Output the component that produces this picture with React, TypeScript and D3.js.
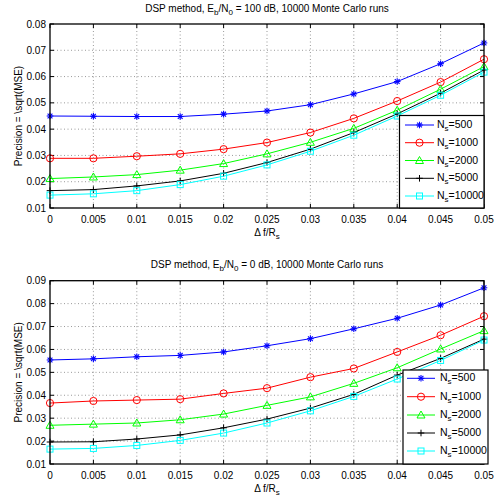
import React from "react";
import * as d3 from "d3";

const dfValues = [0, 0.005, 0.01, 0.015, 0.02, 0.025, 0.03, 0.035, 0.04, 0.045, 0.05];
const xTicks = [0, 0.005, 0.01, 0.015, 0.02, 0.025, 0.03, 0.035, 0.04, 0.045, 0.05];
const seriesNames = ["500", "1000", "2000", "5000", "10000"];

// Top plot: Eb/N0 = 100 dB
const top500 = [0.0450, 0.0449, 0.0448, 0.0448, 0.0457, 0.0469, 0.0493, 0.0534, 0.0581, 0.0649, 0.0728];
const top1000 = [0.0289, 0.0289, 0.0297, 0.0306, 0.0324, 0.0349, 0.0387, 0.0441, 0.0507, 0.0579, 0.0666];
const top2000 = [0.0212, 0.0218, 0.0227, 0.0244, 0.0269, 0.0306, 0.0350, 0.0403, 0.0472, 0.0552, 0.0638];
const top5000 = [0.0166, 0.0170, 0.0184, 0.0203, 0.0232, 0.0273, 0.0324, 0.0387, 0.0458, 0.0537, 0.0625];
const top10000 = [0.0149, 0.0154, 0.0166, 0.0189, 0.0221, 0.0264, 0.0316, 0.0377, 0.0450, 0.0529, 0.0617];
const topYTicks = [0.01, 0.02, 0.03, 0.04, 0.05, 0.06, 0.07, 0.08];

// Bottom plot: Eb/N0 = 0 dB
const bot500 = [0.0554, 0.0559, 0.0568, 0.0574, 0.0589, 0.0616, 0.0647, 0.0690, 0.0736, 0.0794, 0.0869];
const bot1000 = [0.0366, 0.0375, 0.0379, 0.0383, 0.0408, 0.0431, 0.0479, 0.0517, 0.0589, 0.0662, 0.0745];
const bot2000 = [0.0269, 0.0274, 0.0279, 0.0293, 0.0318, 0.0356, 0.0393, 0.0452, 0.0520, 0.0602, 0.0682];
const bot5000 = [0.0196, 0.0197, 0.0209, 0.0227, 0.0258, 0.0296, 0.0344, 0.0404, 0.0488, 0.0561, 0.0645];
const bot10000 = [0.0165, 0.0168, 0.0181, 0.0203, 0.0235, 0.0279, 0.0332, 0.0395, 0.0471, 0.0552, 0.0641];
const botYTicks = [0.01, 0.02, 0.03, 0.04, 0.05, 0.06, 0.07, 0.08, 0.09];

const colors = ["#0000ff", "#ff0000", "#00ff00", "#000000", "#00ffff"];
const markers = ["star", "circle", "triangle", "plus", "square"];
const FONT = "'Liberation Sans', Arial, Helvetica, sans-serif";

function Marker({ type, x, y, color }: { type: string; x: number; y: number; color: string }) {
  const s = 3.3;
  if (type === "star") {
    const d = 2.4;
    return (
      <g stroke={color} strokeWidth={1.1}>
        <line x1={x - s} y1={y} x2={x + s} y2={y} />
        <line x1={x} y1={y - s} x2={x} y2={y + s} />
        <line x1={x - d} y1={y - d} x2={x + d} y2={y + d} />
        <line x1={x - d} y1={y + d} x2={x + d} y2={y - d} />
      </g>
    );
  }
  if (type === "circle") return <circle cx={x} cy={y} r={3.6} fill="none" stroke={color} strokeWidth={1} />;
  if (type === "triangle") {
    const pts = `${x},${y - 4} ${x - 4},${y + 3} ${x + 4},${y + 3}`;
    return <polygon points={pts} fill="none" stroke={color} strokeWidth={1} />;
  }
  if (type === "plus") {
    return (
      <g stroke={color} strokeWidth={1}>
        <line x1={x - s} y1={y} x2={x + s} y2={y} />
        <line x1={x} y1={y - s} x2={x} y2={y + s} />
      </g>
    );
  }
  return <rect x={x - 3} y={y - 3} width={6} height={6} fill="none" stroke={color} strokeWidth={1} />;
}

type PlotProps = {
  top: number;
  bottom: number;
  yTicks: number[];
  series: number[][];
  ebn0: string;
  titleY: number;
  legend: { x0: number; x1: number; y0: number; y1: number; lineX0: number; lineX1: number; textX: number; rows: number[] };
};

function Plot({ top, bottom, yTicks, series, ebn0, titleY, legend }: PlotProps) {
  const left = 50;
  const right = 484;
  const x = d3.scaleLinear().domain([0, 0.05]).range([left, right]);
  const y = d3.scaleLinear().domain([yTicks[0], yTicks[yTicks.length - 1]]).range([bottom, top]);
  const line = d3
    .line<number>()
    .x((_, i) => x(dfValues[i]))
    .y((v) => y(v));
  const tl = 4;
  return (
    <g fontFamily={FONT} fontSize={10}>
      <rect x={left} y={top} width={right - left} height={bottom - top} fill="#fff" />
      {/* grid */}
      {xTicks.slice(1, -1).map((t) => (
        <line key={"gx" + t} x1={x(t)} x2={x(t)} y1={top} y2={bottom} stroke="#555" strokeWidth={0.6} strokeDasharray="1,2.5" />
      ))}
      {yTicks.slice(1, -1).map((t) => (
        <line key={"gy" + t} x1={left} x2={right} y1={y(t)} y2={y(t)} stroke="#555" strokeWidth={0.6} strokeDasharray="1,2.5" />
      ))}
      {/* ticks */}
      {xTicks.map((t) => (
        <g key={"tx" + t}>
          <line x1={x(t)} x2={x(t)} y1={bottom} y2={bottom - tl} stroke="#000" />
          <line x1={x(t)} x2={x(t)} y1={top} y2={top + tl} stroke="#000" />
          <text x={x(t)} y={bottom + 15} textAnchor="middle">{d3.format("")(t)}</text>
        </g>
      ))}
      {yTicks.map((t) => (
        <g key={"ty" + t}>
          <line x1={left} x2={left + tl} y1={y(t)} y2={y(t)} stroke="#000" />
          <line x1={right} x2={right - tl} y1={y(t)} y2={y(t)} stroke="#000" />
          <text x={left - 4} y={y(t) + 3.5} textAnchor="end">{d3.format(".2f")(t)}</text>
        </g>
      ))}
      {/* series */}
      {series.map((vals, si) => (
        <g key={"s" + si}>
          <path d={line(vals) || ""} fill="none" stroke={colors[si]} strokeWidth={1} />
          {vals.map((v, i) => (
            <Marker key={i} type={markers[si]} x={x(dfValues[i])} y={y(v)} color={colors[si]} />
          ))}
        </g>
      ))}
      <rect x={left} y={top} width={right - left} height={bottom - top} fill="none" stroke="#000" strokeWidth={1.3} />
      {/* title */}
      <text x={(left + right) / 2} y={titleY} textAnchor="middle">
        DSP method, E<tspan fontSize={8} dy={3}>b</tspan>
        <tspan dy={-3}>/N</tspan>
        <tspan fontSize={8} dy={3}>0</tspan>
        <tspan dy={-3}>{` = ${ebn0} dB, 10000 Monte Carlo runs`}</tspan>
      </text>
      {/* x label */}
      <text x={(left + right) / 2} y={bottom + 28} textAnchor="middle">
        Δ f/R<tspan fontSize={8} dy={3}>s</tspan>
      </text>
      {/* y label */}
      <text transform={`translate(${22},${(top + bottom) / 2}) rotate(-90)`} textAnchor="middle">
        Precision = \sqrt(MSE)
      </text>
      {/* legend */}
      <rect x={legend.x0} y={legend.y0} width={legend.x1 - legend.x0} height={legend.y1 - legend.y0} fill="#fff" stroke="#000" strokeWidth={1.2} />
      {seriesNames.map((n, i) => {
        const ry = legend.rows[i];
        return (
          <g key={"l" + n}>
            <line x1={legend.lineX0} x2={legend.lineX1} y1={ry} y2={ry} stroke={colors[i]} strokeWidth={1} />
            <Marker type={markers[i]} x={(legend.lineX0 + legend.lineX1) / 2} y={ry} color={colors[i]} />
            <text x={legend.textX} y={ry + 3} fontSize={10.5}>
              N<tspan fontSize={8} dy={3}>s</tspan>
              <tspan dy={-3}>={n}</tspan>
            </text>
          </g>
        );
      })}
    </g>
  );
}

export default function App() {
  return (
    <svg width={503} height={496} style={{ position: "absolute", left: 0, top: 0, background: "#fff" }}>
      <rect width={503} height={496} fill="#fff" />
      <Plot
        top={24}
        bottom={208}
        yTicks={topYTicks}
        series={[top500, top1000, top2000, top5000, top10000]}
        ebn0="100"
        titleY={12}
        legend={{ x0: 399.5, x1: 484, y0: 115.5, y1: 208, lineX0: 405, lineX1: 434, textX: 437, rows: [125, 142.7, 160.5, 178.3, 196] }}
      />
      <Plot
        top={280.7}
        bottom={464}
        yTicks={botYTicks}
        series={[bot500, bot1000, bot2000, bot5000, bot10000]}
        ebn0="0"
        titleY={268}
        legend={{ x0: 403, x1: 488, y0: 370, y1: 464, lineX0: 407, lineX1: 435, textX: 440, rows: [378.3, 396.7, 415, 433, 451] }}
      />
    </svg>
  );
}
